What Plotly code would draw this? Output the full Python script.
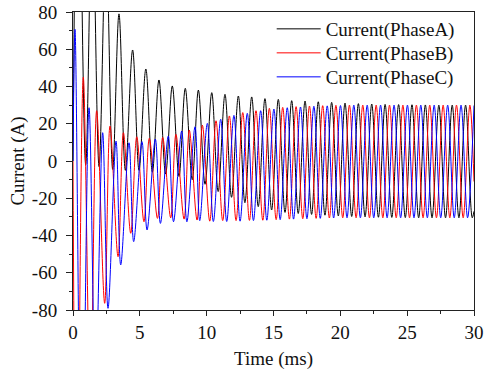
import plotly.graph_objects as go

# ---------------- data (time in ms, current in A) ----------------
# Phase A (black): local maxima / minima of the waveform
a_peak_t = [0.37, 1.44, 2.47, 3.44, 4.46, 5.45, 6.43, 7.43, 8.40, 9.38, 10.38, 11.37, 12.37, 13.37, 14.36,
            15.36, 16.36, 17.36, 18.35, 19.35, 20.35, 21.35, 22.35, 23.35, 24.36, 25.36, 26.36, 27.37, 28.37, 29.37]
a_peak_v = [200, 140, 118, 79, 59.6, 49.4, 43.5, 40.3, 39.0, 38.1, 36.7, 35.8, 34.9, 34.4, 33.5,
            33.1, 32.4, 32.2, 31.8, 31.5, 31.1, 30.8, 30.6, 30.4, 30.3, 30.2, 30.1, 30.0, 30.0, 30.0]
a_trough_t = [0.95, 1.95, 2.97, 3.92, 4.94, 5.94, 6.93, 7.93, 8.92, 9.88, 10.86, 11.86, 12.86, 13.86, 14.86,
              15.86, 16.85, 17.85, 18.85, 19.85, 20.85, 21.85, 22.85, 23.85, 24.86, 25.86, 26.86, 27.87, 28.87, 29.87]
a_trough_v = [-2, -3, -4.5, -5, -5, -6, -7, -8.3, -10, -12.5, -16.4, -19.5, -22.4, -24.5, -26.3,
              -27.6, -28.2, -28.7, -29.1, -29.5, -29.8, -30.0, -30.2, -30.3, -30.4, -30.5, -30.5, -30.5, -30.5, -30.5]
a_ends = [(0.0, 0.0), (30.0, -27.0)]

# Phase B (red)
b_peak_t = [0.77, 1.77, 2.77, 3.77, 4.77, 5.71, 6.71, 7.70, 8.70, 9.68, 10.70, 11.70, 12.70, 13.69, 14.69,
            15.69, 16.69, 17.69, 18.68, 19.67, 20.68, 21.68, 22.68, 23.68, 24.68, 25.69, 26.69, 27.69, 28.69, 29.69]
b_peak_v = [45, 27, 18.8, 15.2, 13.0, 12.2, 12.7, 14.3, 16.6, 19.2, 21.6, 24.2, 26.0, 27.0, 28.3,
            28.8, 29.2, 29.5, 29.7, 29.9, 30, 30, 30, 30, 30, 30, 30, 30, 30, 30]
b_trough_t = [0.27, 1.30, 2.37, 3.37, 4.32, 5.31, 6.32, 7.31, 8.31, 9.28, 10.23, 11.20, 12.20, 13.20, 14.20,
              15.20, 16.19, 17.19, 18.19, 19.18, 20.18, 21.18, 22.18, 23.18, 24.18, 25.18, 26.19, 27.19, 28.19, 29.19]
b_trough_v = [-220, -130, -76.4, -51.4, -38.8, -32.6, -30.8, -30.5, -31.2, -31.7, -32.3, -32.0, -32.0, -31.9, -31.8,
              -31.5, -31.2, -31.0, -30.8, -30.6, -30.5, -30.5, -30.5, -30.5, -30.5, -30.5, -30.5, -30.5, -30.5, -30.5]
b_ends = [(0.0, 0.0), (30.0, -11.0)]

# Phase C (blue)
c_peak_t = [0.15, 1.20, 2.22, 3.22, 4.19, 5.16, 6.16, 7.13, 8.13, 9.13, 10.05, 11.05, 12.04, 13.04, 14.04,
            15.03, 16.03, 17.02, 18.02, 19.02, 20.01, 21.01, 22.01, 23.01, 24.02, 25.02, 26.02, 27.02, 28.03, 29.03]
c_peak_v = [70.7, 28.6, 15.2, 10.7, 9.8, 10.4, 11.8, 13.4, 16.1, 18.4, 20.2, 22.4, 24.5, 25.6, 27.0,
            27.9, 28.6, 29.0, 29.4, 29.6, 29.8, 30, 30, 30, 30, 30, 30, 30, 30, 30]
c_trough_t = [0.65, 1.68, 2.62, 3.57, 4.54, 5.54, 6.54, 7.52, 8.52, 9.48, 10.50, 11.50, 12.50, 13.50, 14.50,
              15.50, 16.50, 17.50, 18.50, 19.50, 20.50, 21.50, 22.50, 23.50, 24.51, 25.51, 26.51, 27.51, 28.52, 29.52]
c_trough_v = [-190, -120, -79.1, -55.8, -43.3, -37.0, -33.5, -32.6, -32.6, -32.0, -32.5, -32.5, -32.3, -32.0, -31.8,
              -31.5, -31.2, -31.0, -30.8, -30.6, -30.5, -30.5, -30.5, -30.5, -30.5, -30.5, -30.5, -30.5, -30.5, -30.5]
c_ends = [(0.0, 0.0), (30.0, 29.8)]

series_names = ["Current(PhaseA)", "Current(PhaseB)", "Current(PhaseC)"]
series_colors = ["#000000", "#ff0000", "#0000ff"]

x_tick_vals = [0, 5, 10, 15, 20, 25, 30]
x_tick_text = ["0", "5", "10", "15", "20", "25", "30"]
y_tick_vals = [-80, -60, -40, -20, 0, 20, 40, 60, 80]
y_tick_text = ["-80", "-60", "-40", "-20", "0", "20", "40", "60", "80"]


def build(peak_t, peak_v, trough_t, trough_v, ends):
    pts = list(zip(peak_t, peak_v)) + list(zip(trough_t, trough_v)) + list(ends)
    pts.sort(key=lambda p: p[0])
    return [p[0] for p in pts], [p[1] for p in pts]


phases = [
    build(a_peak_t, a_peak_v, a_trough_t, a_trough_v, a_ends),
    build(b_peak_t, b_peak_v, b_trough_t, b_trough_v, b_ends),
    build(c_peak_t, c_peak_v, c_trough_t, c_trough_v, c_ends),
]

FONT = "Liberation Serif, Times New Roman, serif"
TXT = "#111"

ML, MR, MT, MB = 73, 21, 12, 60
PLOT_H = 370 - MT - MB
legend_keys = ["legend", "legend2", "legend3"]
legend_centers = [29, 53, 77]  # entry centres, px from top of figure

fig = go.Figure()
for (xs, ys), name, col, lk in zip(phases, series_names, series_colors, legend_keys):
    fig.add_trace(go.Scatter(
        x=xs, y=ys, mode="lines", name=name, legend=lk,
        line=dict(color=col, width=1, shape="spline", smoothing=1.0),
    ))

legend_layout = {}
for lk, cy in zip(legend_keys, legend_centers):
    legend_layout[lk] = dict(
        x=0.4955, y=1 - (cy - MT) / PLOT_H, xanchor="left", yanchor="middle",
        bgcolor="rgba(0,0,0,0)", borderwidth=0,
        font=dict(family=FONT, size=19, color=TXT),
        itemwidth=44,
    )

fig.update_layout(
    width=495, height=370,
    margin=dict(l=ML, r=MR, t=MT, b=MB, autoexpand=False),
    paper_bgcolor="white", plot_bgcolor="white",
    font=dict(family=FONT, size=19, color=TXT),
    showlegend=True, hovermode=False,
    **legend_layout,
)

fig.update_xaxes(
    range=[0, 30], tickvals=x_tick_vals, ticktext=x_tick_text, automargin=False,
    showline=True, linecolor="#222", linewidth=1, mirror=True,
    ticks="outside", ticklen=5, tickwidth=1, tickcolor="#222",
    minor=dict(dtick=2.5, ticks="outside", ticklen=3, tickwidth=1, tickcolor="#222"),
    showgrid=False, zeroline=False, ticklabeloverflow="allow",
    tickfont=dict(family=FONT, size=19, color=TXT),
    title=dict(text="Time (ms)", font=dict(family=FONT, size=19, color=TXT), standoff=11),
)
fig.update_yaxes(
    range=[-80, 80], tickvals=y_tick_vals, ticktext=y_tick_text, automargin=False,
    showline=True, linecolor="#222", linewidth=1, mirror=True,
    ticks="outside", ticklen=6, tickwidth=1, tickcolor="#222",
    minor=dict(dtick=10, ticks="outside", ticklen=3, tickwidth=1, tickcolor="#222"),
    showgrid=False, zeroline=False, ticklabelstandoff=5, ticklabeloverflow="allow",
    tickfont=dict(family=FONT, size=19, color=TXT),
    title=dict(text="Current (A)", font=dict(family=FONT, size=19, color=TXT), standoff=2),
)

fig.write_html("out.html", config={"displayModeBar": False, "staticPlot": True},
               post_script="document.body.style.margin='0';")
